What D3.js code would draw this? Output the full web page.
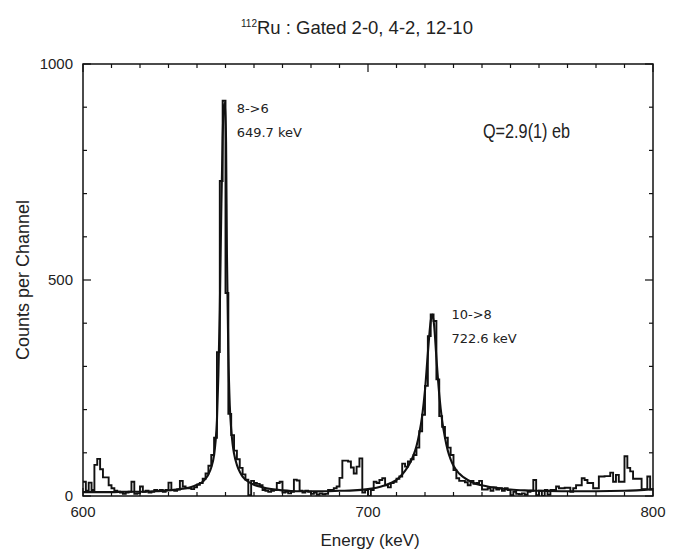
<!DOCTYPE html>
<html>
<head>
<meta charset="utf-8">
<script src="https://cdn.jsdelivr.net/npm/d3@7"></script>
<style>
  body { margin: 0; background: #fff; }
  text { font-family: "Liberation Sans", Arial, sans-serif; fill: #222; }
</style>
</head>
<body>
<div id="chart"></div>
<script>
const svgWidth = 691;
const svgHeight = 552;

const margin = { top: 64, right: 38, bottom: 56, left: 83 };
const chartWidth = svgWidth - margin.left - margin.right;
const chartHeight = svgHeight - margin.top - margin.bottom;

// histogram: 1 keV bins starting at 600 keV
const binStart = 600;
const binWidth = 1;
const counts = [
  33, 12, 31, 14, 72, 86, 62, 43, 43, 25,   // 600
  18, 12, 10, 8, 5, 8, 10, 33, 5, 6,        // 610
  22, 10, 12, 8, 10, 14, 12, 14, 10, 14,    // 620
  31, 14, 12, 15, 35, 22, 18, 18, 16, 20,   // 630
  26, 30, 40, 52, 70, 95, 135, 333, 729, 915, // 640
  470, 190, 141, 105, 85, 65, 50, 38, 2, 35,  // 650
  30, 28, 25, 14, 12, 10, 12, 14, 30, 33,   // 660
  8, 10, 6, 10, 38, 36, 12, 8, 12, 10,      // 670
  5, 8, 3, 6, 4, 5, 14, 14, 18, 22,         // 680
  42, 82, 82, 80, 66, 52, 68, 87, 8, 14,    // 690
  0, 14, 33, 30, 37, 41, 25, 20, 30, 33,    // 700
  40, 45, 75, 68, 80, 85, 95, 112, 150, 188, // 710
  255, 370, 420, 405, 270, 185, 160, 135, 112, 95, // 720
  60, 41, 35, 35, 32, 25, 35, 28, 30, 35,   // 730
  15, 15, 18, 12, 20, 15, 18, 12, 18, 14,   // 740
  2, 10, 5, 4, 6, 3, 10, 12, 37, 2,         // 750
  12, 0, 14, 3, 14, 14, 22, 18, 18, 19,     // 760
  19, 10, 18, 25, 25, 41, 37, 30, 30, 18,   // 770
  18, 45, 45, 46, 46, 54, 33, 49, 33, 33,   // 780
  92, 65, 57, 40, 40, 40, 16, 16, 45, 15    // 790
];

// fitted curve
const fitEnergy = [600, 605, 610, 615, 620, 625, 630, 635, 638, 640, 642, 643, 644, 645, 646, 646.5, 647, 647.5, 648, 648.5,
  649, 649.5, 649.8, 650.2, 650.5, 651, 651.5, 652, 652.5, 653, 654, 655, 656, 658, 660, 663, 666, 670, 675, 680,
  685, 690, 695, 700, 703, 706, 709, 711, 713, 715, 716, 717, 718, 719, 720, 721, 722, 722.6, 723.2, 724,
  725, 726, 727, 728, 729, 730, 732, 735, 738, 742, 746, 750, 755, 760, 770, 780, 790, 800];
const fitCounts = [9, 9, 9, 10, 10, 11, 13, 17, 21, 26, 33, 40, 50, 66, 95, 125, 175, 280, 430, 650,
  830, 905, 910, 820, 560, 330, 210, 155, 120, 98, 72, 56, 45, 33, 26, 20, 16, 13, 11, 11,
  11, 12, 13, 16, 19, 25, 33, 43, 58, 80, 95, 115, 145, 185, 245, 330, 405, 420, 395, 320,
  235, 175, 135, 105, 85, 70, 52, 37, 28, 22, 18, 15, 13, 12, 11, 11, 12, 16];

const xTicks = [600, 700, 800];
const yTicks = [0, 500, 1000];

const peakNames = ["8->6", "10->8"];
const peakEnergies = [649.7, 722.6];
const peakHeights = [915, 420];

const svg = d3.select('#chart').append('svg').attr('width', svgWidth).attr('height', svgHeight);
const g = svg.append('g').attr('transform', `translate(${margin.left},${margin.top})`);

const xScale = d3.scaleLinear().domain([600, 800]).range([0, chartWidth]);
const yScale = d3.scaleLinear().domain([0, 1000]).range([chartHeight, 0]);

// histogram as a step line
const histPts = counts.map((c, i) => [binStart + i * binWidth, c]);
histPts.push([binStart + counts.length * binWidth, counts[counts.length - 1]]);

g.append('clipPath').attr('id', 'plot-clip')
  .append('rect').attr('width', chartWidth).attr('height', chartHeight);

g.append('path')
  .datum(histPts)
  .attr('clip-path', 'url(#plot-clip)')
  .attr('fill', 'none')
  .attr('stroke', '#111')
  .attr('stroke-width', 1.9)
  .attr('d', d3.line().x(d => xScale(d[0])).y(d => yScale(d[1])).curve(d3.curveStepAfter));

g.append('path')
  .datum(fitEnergy.map((e, i) => [e, fitCounts[i]]))
  .attr('clip-path', 'url(#plot-clip)')
  .attr('fill', 'none')
  .attr('stroke', '#111')
  .attr('stroke-width', 2.1)
  .attr('d', d3.line().x(d => xScale(d[0])).y(d => yScale(d[1])).curve(d3.curveMonotoneX));

// frame with inward ticks
function tickLen(v, major) { return major.includes(v) ? 8 : 4; }
const xMinor = d3.range(600, 801, 10);
const yMinor = d3.range(0, 1001, 100);

g.append('rect').attr('width', chartWidth).attr('height', chartHeight)
  .attr('fill', 'none').attr('stroke', '#111').attr('stroke-width', 1.5);

const ticks = g.append('g').attr('stroke', '#111').attr('stroke-width', 1.2);
xMinor.forEach(v => {
  const L = tickLen(v, xTicks);
  ticks.append('line').attr('x1', xScale(v)).attr('x2', xScale(v)).attr('y1', chartHeight).attr('y2', chartHeight - L);
  ticks.append('line').attr('x1', xScale(v)).attr('x2', xScale(v)).attr('y1', 0).attr('y2', L);
});
yMinor.forEach(v => {
  const L = tickLen(v, yTicks);
  ticks.append('line').attr('y1', yScale(v)).attr('y2', yScale(v)).attr('x1', 0).attr('x2', L);
  ticks.append('line').attr('y1', yScale(v)).attr('y2', yScale(v)).attr('x1', chartWidth).attr('x2', chartWidth - L);
});

// tick labels
g.selectAll('.xlab').data(xTicks).enter().append('text')
  .attr('x', d => xScale(d)).attr('y', chartHeight + 21)
  .attr('text-anchor', 'middle').style('font-size', '15px').text(d => d);
g.selectAll('.ylab').data(yTicks).enter().append('text')
  .attr('x', -10).attr('y', d => yScale(d) + 5)
  .attr('text-anchor', 'end').style('font-size', '15px').text(d => d);

// axis titles
svg.append('text')
  .attr('x', margin.left + chartWidth / 2 + 2).attr('y', svgHeight - 6)
  .attr('text-anchor', 'middle').style('font-size', '17px').text('Energy (keV)');
svg.append('text')
  .attr('transform', 'rotate(-90)')
  .attr('x', -(margin.top + chartHeight / 2)).attr('y', 29)
  .attr('text-anchor', 'middle').style('font-size', '18px').text('Counts per Channel');

// title
const title = svg.append('text')
  .attr('x', 357).attr('y', 34)
  .attr('text-anchor', 'middle').style('font-size', '18.5px');
title.append('tspan').attr('dy', '-7').style('font-size', '10px').text('112');
title.append('tspan').attr('dy', '7').text('Ru : Gated 2-0, 4-2, 12-10');

// peak labels
const labelDx = [12, 19];
const labelDy = [12, 4];
peakNames.forEach((name, i) => {
  const x0 = xScale(peakEnergies[i]) + labelDx[i];
  const y0 = yScale(peakHeights[i]) + labelDy[i];
  g.append('text').attr('x', x0).attr('y', y0)
    .style('font-family', '"DejaVu Sans", Verdana, sans-serif').style('font-size', '13px').text(name);
  g.append('text').attr('x', x0).attr('y', y0 + 24)
    .style('font-family', '"DejaVu Sans", Verdana, sans-serif').style('font-size', '13px').text(peakEnergies[i].toFixed(1) + ' keV');
});

svg.append('text')
  .attr('x', 483).attr('y', 138)
  .attr('textLength', 87).attr('lengthAdjust', 'spacingAndGlyphs')
  .style('font-size', '20px').text('Q=2.9(1) eb');
</script>
</body>
</html>
